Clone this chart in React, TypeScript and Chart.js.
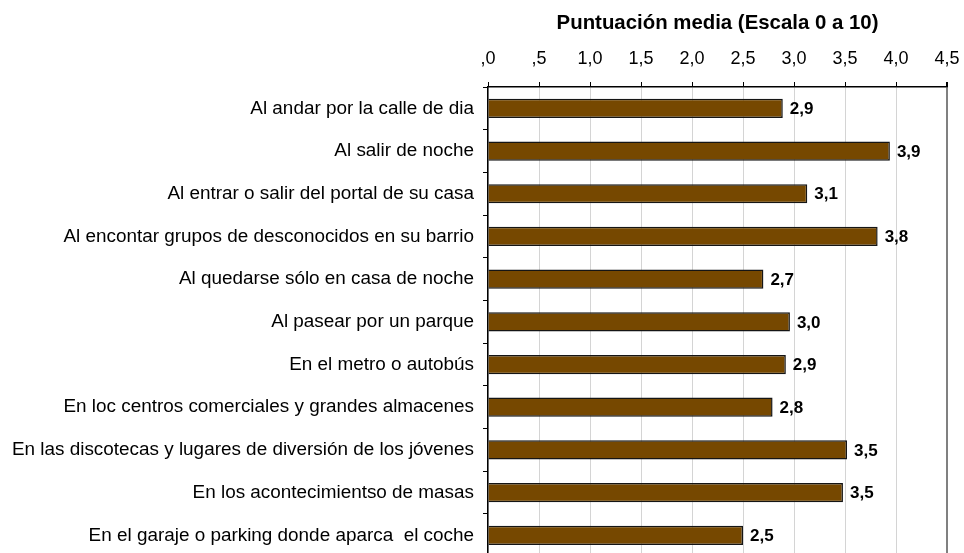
import React, { useEffect, useRef } from "react";
import { Chart, registerables } from "chart.js";

Chart.register(...registerables);

const categories = [
  "Al andar por la calle de dia",
  "Al salir de noche",
  "Al entrar o salir del portal de su casa",
  "Al encontar grupos de desconocidos en su barrio",
  "Al quedarse sólo en casa de noche",
  "Al pasear por un parque",
  "En el metro o autobús",
  "En loc centros comerciales y grandes almacenes",
  "En las discotecas y lugares de diversión de los jóvenes",
  "En los acontecimientso de masas",
  "En el garaje o parking donde aparca  el coche",
];

const values = [2.89, 3.94, 3.13, 3.82, 2.7, 2.96, 2.92, 2.79, 3.52, 3.48, 2.5];

const axisTitle = "Puntuación media (Escala 0 a 10)";

const FONT = "'Liberation Sans', Arial, sans-serif";

const fmt = (v: number) => v.toFixed(1).replace(".", ",");

const valueLabels = {
  id: "valueLabels",
  afterDatasetsDraw(chart: any) {
    const ctx = chart.ctx;
    const meta = chart.getDatasetMeta(0);
    ctx.save();
    ctx.font = `bold 17px ${FONT}`;
    ctx.fillStyle = "#000";
    ctx.textAlign = "left";
    ctx.textBaseline = "middle";
    meta.data.forEach((el: any, i: number) => {
      ctx.fillText(fmt(values[i]), el.x + 7, el.y + 1);
    });
    ctx.restore();
  },
};

export default function App() {
  const ref = useRef<HTMLCanvasElement | null>(null);
  useEffect(() => {
    if (!ref.current) return;
    const chart = new Chart(ref.current, {
      type: "bar",
      data: {
        labels: categories,
        datasets: [
          {
            data: values,
            backgroundColor: "#764800",
            borderColor: "#151515",
            borderWidth: 1.5,
            barPercentage: 0.45,
            categoryPercentage: 1,
          },
        ],
      },
      options: {
        indexAxis: "y",
        animation: false,
        responsive: false,
        devicePixelRatio: 1,
        layout: { padding: { top: 0, right: 17, bottom: 4, left: 0 } },
        plugins: { legend: { display: false }, tooltip: { enabled: false } },
        scales: {
          x: {
            position: "top",
            min: 0,
            max: 4.5,
            afterFit: (s: any) => {
              s.height = 87;
              s.paddingRight = 0;
              s.paddingLeft = 0;
            },
            ticks: {
              stepSize: 0.5,
              color: "#000",
              font: { family: FONT, size: 18 },
              padding: 12,
              callback: (v: any) => {
                const s = fmt(Number(v));
                return s.startsWith("0") ? s.slice(1) : s;
              },
            },
            grid: {
              color: (c: any) =>
                c.tick && Math.abs(c.tick.value - 4.5) < 1e-6 ? "#808080" : "#d4d4d4",
              lineWidth: (c: any) =>
                c.tick && Math.abs(c.tick.value - 4.5) < 1e-6 ? 2 : 1,
              tickColor: "#000",
              tickLength: 5,
            },
            border: { display: true, color: "#000", width: 1.5 },
            title: {
              display: true,
              text: axisTitle,
              color: "#000",
              font: { family: FONT, size: 20.4, weight: "bold" },
              padding: { top: 11, bottom: 0 },
            },
          },
          y: {
            afterFit: (s: any) => {
              s.width = 488;
            },
            ticks: {
              color: "#000",
              font: { family: FONT, size: 18.9 },
              padding: 9,
            },
            grid: {
              display: true,
              drawOnChartArea: false,
              offset: true,
              tickLength: 5,
              color: "#000",
              tickColor: "#000",
            },
            border: { display: true, color: "#000", width: 1.5 },
          },
        },
      },
      plugins: [valueLabels],
    } as any);
    return () => chart.destroy();
  }, []);
  return (
    <div
      style={{
        position: "fixed",
        left: 0,
        top: 0,
        width: 964,
        height: 553,
        overflow: "hidden",
        background: "#fff",
      }}
    >
      <canvas ref={ref} width={964} height={577} />
    </div>
  );
}
